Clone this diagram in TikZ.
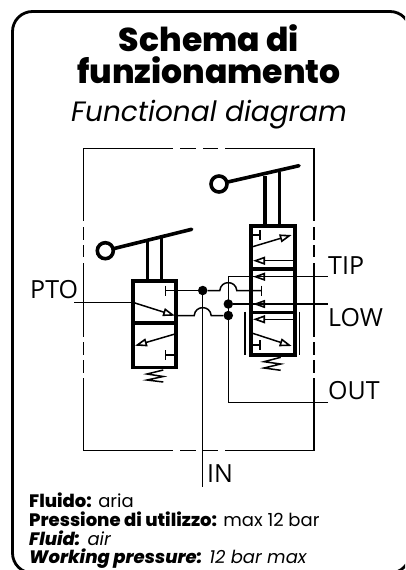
\documentclass[tikz,border=0pt]{standalone}
\usepackage{fontspec}
\setmainfont{Poppins}[BoldFont={Poppins ExtraBold}, BoldItalicFont={Poppins ExtraBold Italic}]
\newfontfamily\portfont{Open Sans}
\usepackage{tikz}
\usetikzlibrary{arrows.meta}
\tikzset{
	wire/.style={line width=1.5pt},
	heavy/.style={line width=3.6pt},
	cell/.style={draw, line width=3.6pt, minimum width=#1, inner sep=0pt},
	dot/.style={circle, fill=black, minimum size=9.5pt, inner sep=0pt},
	knob/.style={circle, draw, line width=3.6pt, minimum size=16pt, inner sep=0pt},
	head/.style={wire, -{Triangle[open, length=12pt, width=8pt, line width=1.6pt]}},
	port/.style={anchor=base west, inner sep=0pt, font=\portfont\fontsize{25}{25}\selectfont},
	note/.style={anchor=base west, inner sep=0pt, font=\fontsize{18}{18}\selectfont}
}
\newcommand{\hump}{.. controls +(1,-10.5) and +(-1,-10.5) .. +(17,0)}
\begin{document}
\begin{tikzpicture}[x=1pt, y=-1pt]
			\clip (0, 0) rectangle (405, 570);
			\useasboundingbox (0, 0) rectangle (405, 570);
			\draw [line width=2.8pt, rounded corners=20pt] (12.5, 11.5) rectangle (410, 573);
			\node at (209, 51.7) [anchor=base, inner sep=0pt, font=\bfseries\fontsize{33}{33}\selectfont] (title1) {Schema di};
			\node at (209, 83.3) [anchor=base, inner sep=0pt, font=\bfseries\fontsize{33}{33}\selectfont] (title2) {funzionamento};
			\node at (209, 121.7) [anchor=base, inner sep=0pt, font=\itshape\fontsize{28}{28}\selectfont] (title3) {Functional diagram};
			\foreach \from/\to in {83.7/173, 180/196, 203/218, 225/314} {
				\draw [wire] (\from, 148.3) -- (\to, 148.3);
				\draw [wire] (\from, 450.7) -- (\to, 450.7);
			}
			\foreach \from/\to in {148.3/221, 227/240, 245/257, 263/336.5, 342/355, 360/373, 378/450.7} {
				\draw [wire] (83.7, \from) -- (83.7, \to);
				\draw [wire] (314, \from) -- (314, \to);
			}
			\node at (154.3, 301.7) [cell=43pt, minimum height=42pt] (leftA) {};
			\node at (154.3, 345) [cell=43pt, minimum height=44.6pt] (leftB) {};
			\node at (272.8, 247.2) [cell=44pt, minimum height=43pt] (rightA) {};
			\node at (272.8, 290.5) [cell=44pt, minimum height=43.6pt] (rightB) {};
			\node at (272.8, 333.7) [cell=44pt, minimum height=42.7pt] (rightC) {};
			\node at (105.3, 250.7) [knob] (knobL) {};
			\node at (219, 184) [knob] (knobR) {};
			\coordinate (leverL) at (191.7, 229.3);
			\coordinate (leverR) at (299, 165.7);
			\draw [heavy, line cap=round] (knobL) -- (leverL);
			\draw [heavy, line cap=round] (knobR) -- (leverR);
			\draw [heavy] (147.3, 280.7) -- (147.3, 240.2);
			\draw [heavy] (161.3, 280.7) -- (161.3, 236.4);
			\draw [heavy] (265, 225.7) -- (265, 175.6);
			\draw [heavy] (279.3, 225.7) -- (279.3, 171.6);
			\node at (202.7, 290.5) [dot] (jIn) {};
			\node at (228.3, 304) [dot] (jLow) {};
			\node at (228.3, 315.5) [dot] (jOut) {};
			\node at (30, 298) [port] (pto) {PTO};
			\node at (328, 274) [port] (tip) {TIP};
			\node at (328, 326) [port] (low) {LOW};
			\node at (328, 399) [port] (out) {OUT};
			\node at (207, 482.7) [port] (in) {IN};
			\coordinate (ptoEnd) at (74, 302.3);
			\coordinate (tipEnd) at (328, 276.7);
			\coordinate (tipCorner) at (228.3, 276.7);
			\coordinate (lowEnd) at (328, 304);
			\coordinate (outCorner) at (228.3, 402.3);
			\coordinate (outEnd) at (328, 402.3);
			\coordinate (inEnd) at (202.7, 486.7);
			\coordinate (stopL) at (165.5, 290.5);
			\coordinate (stopR) at (261.7, 290.5);
			\draw [wire] (ptoEnd) -- (133, 302.3);
			\draw [wire] (jIn) -- (inEnd);
			\draw [wire] (stopL) -- (jIn);
			\draw [wire] (jIn) -- (219.8, 290.5) \hump -- (stopR);
			\draw [wire] (176, 315.5) -- (194.2, 315.5) \hump -- (jOut);
			\draw [wire] (outEnd) -- (outCorner) -- (tipCorner) -- (tipEnd);
			\draw [wire] (jLow) -- (lowEnd);
			\foreach \xpos/\ypos in {165.5/290.5, 165.5/355, 261.7/290.5} {
				\draw [wire] (\xpos, \ypos-5) -- (\xpos, \ypos+5);
			}
			\draw [wire] (165.5, 355) -- (176, 355);
			\draw [wire] (251, 235) -- (260, 235);
			\draw [wire] (260, 230) -- (260, 240);
			\draw [wire] (251, 345) -- (260, 345);
			\draw [wire] (260, 340) -- (260, 350);
			\draw [head] (134, 302.7) -- (175, 315.7);
			\draw [head] (175, 334) -- (135, 345.7);
			\draw [head] (252.7, 246.7) -- (291.7, 235);
			\draw [head] (295, 260.7) -- (253, 260.7);
			\draw [head] (265, 276.7) -- (253, 276.7);
			\draw [head] (265, 304) -- (253, 304);
			\draw [head] (295, 319.3) -- (253, 319.3);
			\draw [head] (252.7, 333.3) -- (291.7, 346);
			\draw [wire] (245, 311.7) -- (245, 355);
			\draw [wire] (299.3, 311.7) -- (299.3, 355);
			\draw [wire] (163.3, 370) -- (147, 374) -- (163.3, 376.5) -- (147, 380) -- (163.3, 382);
			\draw [wire] (280.7, 357.3) -- (264, 361.7) -- (280.7, 364) -- (264, 368) -- (280.7, 370.3);
			\node at (29, 507.7) [note] (fluido) {\textbf{Fluido:} aria};
			\node at (29, 526.7) [note] (pressione) {\textbf{Pressione di utilizzo:} max 12 bar};
			\node at (29, 545) [note] (fluid) {\itshape\textbf{Fluid:} air};
			\node at (29, 563) [note] (working) {\itshape\textbf{Working pressure:} 12 bar max};
		\end{tikzpicture}
\end{document}
